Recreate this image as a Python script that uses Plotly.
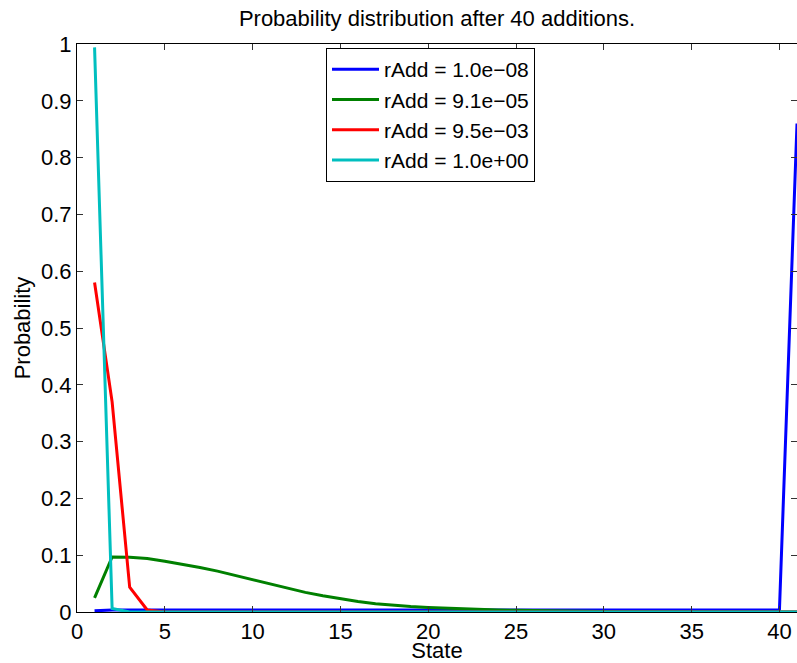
import plotly.graph_objects as go

states = list(range(1, 42))

labels = ["rAdd = 1.0e\u221208", "rAdd = 9.1e\u221205", "rAdd = 9.5e\u221203", "rAdd = 1.0e+00"]
colors = ["#0000FF", "#008000", "#FF0000", "#00BFBF"]

p_blue = [0.002, 0.0036, 0.0036, 0.0036, 0.0036, 0.0036, 0.0036, 0.0036, 0.0036, 0.0036,
          0.0036, 0.0036, 0.0036, 0.0036, 0.0036, 0.0036, 0.0036, 0.0036, 0.0036, 0.0036,
          0.0036, 0.0036, 0.0036, 0.0036, 0.0036, 0.0036, 0.0036, 0.0036, 0.0036, 0.0036,
          0.0036, 0.0036, 0.0036, 0.0036, 0.0036, 0.0036, 0.0036, 0.0036, 0.0036, 0.0036,
          0.86]
p_green = [0.025, 0.097, 0.0965, 0.094, 0.0895, 0.0845, 0.0785, 0.072, 0.0645, 0.0565,
           0.049, 0.0415, 0.0345, 0.0285, 0.023, 0.0185, 0.0145, 0.0115, 0.0095, 0.008,
           0.0066, 0.0054, 0.0044, 0.0036, 0.0029, 0.0023, 0.0018, 0.0014, 0.0011, 0.0008,
           0.0006, 0.0004, 0.0003, 0.0002, 0.0002, 0.0001, 0.0001, 0.0001, 0.0, 0.0,
           0.0]
p_red = [0.58, 0.37, 0.0435, 0.0035, 0.0002, 0.0, 0.0, 0.0, 0.0, 0.0,
         0.0, 0.0, 0.0, 0.0, 0.0, 0.0, 0.0, 0.0, 0.0, 0.0,
         0.0, 0.0, 0.0, 0.0, 0.0, 0.0, 0.0, 0.0, 0.0, 0.0,
         0.0, 0.0, 0.0, 0.0, 0.0, 0.0, 0.0, 0.0, 0.0, 0.0,
         0.0]
p_cyan = [0.994, 0.006, 0.0, 0.0, 0.0, 0.0, 0.0, 0.0, 0.0, 0.0,
          0.0, 0.0, 0.0, 0.0, 0.0, 0.0, 0.0, 0.0, 0.0, 0.0,
          0.0, 0.0, 0.0, 0.0, 0.0, 0.0, 0.0, 0.0, 0.0, 0.0,
          0.0, 0.0, 0.0, 0.0, 0.0, 0.0, 0.0, 0.0, 0.0, 0.0,
          0.0]

x_ticks = [0, 5, 10, 15, 20, 25, 30, 35, 40]
y_ticks = [0, 0.1, 0.2, 0.3, 0.4, 0.5, 0.6, 0.7, 0.8, 0.9, 1]
y_ticktext = ["0", "0.1", "0.2", "0.3", "0.4", "0.5", "0.6", "0.7", "0.8", "0.9", "1"]

FONT = "Liberation Sans, Arial, Helvetica, sans-serif"

fig = go.Figure()
for ys, name, col in zip([p_blue, p_green, p_red, p_cyan], labels, colors):
    fig.add_trace(go.Scatter(x=states, y=ys, mode="lines", name=name,
                             line=dict(color=col, width=3)))

fig.update_layout(
    width=797, height=663,
    margin=dict(l=77, r=0, t=44, b=51),
    paper_bgcolor="white", plot_bgcolor="white",
    font=dict(family=FONT, size=22, color="black"),
    title=dict(text="Probability distribution after 40 additions.",
               x=(77 + 797) / 2 / 797, xanchor="center", xref="container",
               y=1 - 18 / 663, yanchor="middle", yref="container",
               font=dict(size=22)),
    showlegend=True,
    legend=dict(x=(326 - 77) / 720, y=1 - (48 - 44) / 568, xanchor="left", yanchor="top",
                bgcolor="white", bordercolor="black", borderwidth=1,
                font=dict(size=21), itemwidth=47, tracegroupgap=0),
)
fig.update_xaxes(range=[0, 41], tickvals=x_ticks, ticks="inside", ticklen=6,
                 tickcolor="#333333", showline=True, linecolor="black", linewidth=1,
                 mirror="ticks", showgrid=False, zeroline=False,
                 ticklabelstandoff=0,
                 title=dict(text="State", standoff=0, font=dict(size=22)))
fig.update_yaxes(range=[0, 1], tickvals=y_ticks, ticktext=y_ticktext, ticks="inside",
                 ticklen=6, tickcolor="#333333", showline=True, linecolor="black",
                 linewidth=1, mirror="ticks", showgrid=False, zeroline=False,
                 title=dict(text="Probability", standoff=4, font=dict(size=22)))

fig.write_html("out.html")
